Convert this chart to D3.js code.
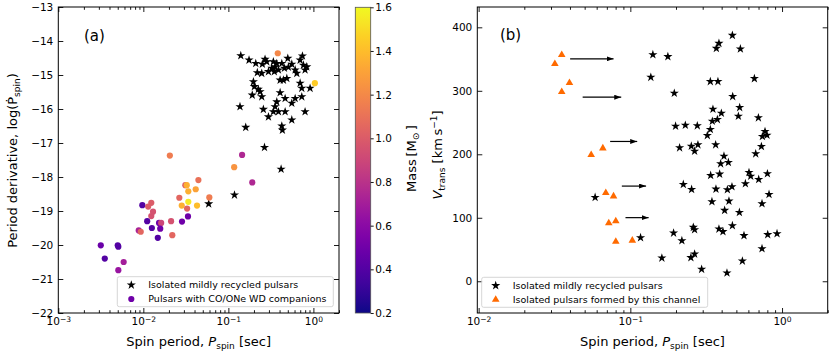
<!DOCTYPE html>
<html>
<head>
<meta charset="utf-8">
<script src="https://cdn.jsdelivr.net/npm/d3@7"></script>
<style>
  body { margin: 0; background: #fff; }
  svg { font-family: "DejaVu Sans", sans-serif; }
</style>
</head>
<body>
<svg id="chart" width="831" height="354"></svg>
<script>
// ---- panel (a): isolated mildly recycled pulsars [P (s), log Pdot]
const starsA = [
  [0.140,-14.43],[0.175,-14.56],[0.210,-14.66],[0.251,-14.68],[0.270,-14.54],[0.283,-14.61],
  [0.338,-14.61],[0.354,-14.76],[0.371,-14.66],[0.388,-14.85],[0.347,-14.90],[0.324,-14.80],
  [0.296,-14.90],[0.247,-14.95],[0.219,-14.93],[0.425,-14.66],[0.456,-14.80],[0.500,-14.51],
  [0.508,-14.77],[0.557,-14.68],[0.610,-14.85],[0.638,-14.95],[0.698,-14.56],[0.743,-14.44],
  [0.763,-14.71],[0.798,-14.85],[0.835,-14.76],[0.698,-15.24],[0.730,-15.39],[0.914,-15.39],
  [0.487,-15.10],[0.406,-15.15],[0.444,-15.15],[0.197,-15.20],[0.202,-15.34],[0.225,-15.42],
  [0.236,-15.49],[0.191,-15.59],[0.247,-15.64],[0.137,-15.93],[0.406,-15.52],[0.465,-15.69],
  [0.610,-15.69],[0.730,-15.64],[0.371,-15.79],[0.557,-15.83],[0.354,-15.93],[0.258,-16.01],
  [0.338,-16.08],[0.388,-16.08],[0.465,-16.08],[0.296,-16.23],[0.557,-16.32],[0.798,-16.08],
  [0.160,-16.54],[0.425,-16.50],[0.432,-16.62],[0.266,-17.13],[0.417,-17.77],[0.118,-18.53],
  [0.0587,-18.79]
];

// pulsars with CO/ONe WD companions [P (s), log Pdot, mass (Msun)]
const wdPulsars = [
  [0.0205,-17.37,1.15],[0.0444,-18.09,1.10],[0.0312,-18.24,1.00],[0.0324,-18.24,1.35],
  [0.0338,-18.42,1.35],[0.0413,-18.36,1.30],[0.0265,-18.61,1.05],[0.0338,-18.73,1.55],
  [0.0283,-18.84,1.35],[0.0428,-18.84,1.40],[0.0327,-18.93,1.05],[0.0335,-19.16,0.50],
  [0.0285,-19.31,0.50],[0.0212,-19.30,0.95],[0.0219,-19.71,1.05],[0.00973,-18.83,0.40],
  [0.0124,-18.76,1.00],[0.0114,-18.87,1.00],[0.0130,-19.02,0.95],[0.0124,-19.15,0.95],
  [0.0111,-19.30,0.40],[0.0153,-19.35,0.50],[0.0162,-19.35,0.90],[0.0126,-19.50,0.40],
  [0.0158,-19.52,0.50],[0.00883,-19.57,0.72],[0.00932,-19.61,1.05],[0.0148,-19.79,0.40],
  [0.00316,-20.01,0.48],[0.00500,-20.01,0.40],[0.00508,-20.05,0.40],[0.00352,-20.40,0.40],
  [0.00587,-20.50,0.70],[0.00508,-20.74,0.65],[0.145,-17.35,0.75],[0.117,-17.71,1.25],
  [0.191,-18.16,0.75],[0.0597,-18.60,1.15],[0.381,-14.36,1.20],[1.04,-15.24,1.45]
];

// ---- panel (b): isolated mildly recycled pulsars [P (s), V_trans (km/s)]
const starsB = [
  [0.1408,357.0],[0.1768,353.9],[0.1365,321.3],[0.1949,296.2],[0.1987,244.3],[0.2304,245.8],
  [0.2764,244.9],[0.2113,210.3],[0.2523,212.8],[0.2653,204.9],[0.2790,215.0],[0.3368,314.6],
  [0.3780,314.6],[0.3838,374.8],[0.3690,366.9],[0.4707,387.4],[0.5314,366.0],[0.6573,319.3],
  [0.4729,291.0],[0.5258,273.7],[0.5155,260.0],[0.3504,271.0],[0.3981,264.7],[0.3472,252.1],
  [0.3747,254.8],[0.3368,239.1],[0.3218,229.6],[0.3651,215.0],[0.4142,197.1],[0.3939,185.1],
  [0.4429,187.2],[0.6985,257.5],[0.7723,235.9],[0.7424,228.1],[0.7962,230.1],[0.7312,212.3],
  [0.6705,200.8],[0.3384,166.7],[0.3879,168.8],[0.6056,171.4],[0.6215,165.6],[0.7018,160.4],
  [0.8011,169.4],[0.2235,152.6],[0.2535,144.7],[0.3668,145.2],[0.4362,144.2],[0.4677,148.9],
  [0.5733,153.7],[0.8209,136.8],[0.7379,122.2],[0.3451,125.4],[0.4468,126.3],[0.4184,111.7],
  [0.5234,108.5],[0.0586,132.1],[0.1168,68.7],[0.1928,76.0],[0.2187,64.0],[0.2601,84.9],
  [0.2653,81.3],[0.3838,82.3],[0.4079,78.2],[0.4707,87.6],[0.5613,71.9],[0.8047,73.5],
  [0.9268,75.0],[0.7379,51.4],[0.1614,36.6],[0.2507,37.3],[0.2653,42.9],[0.5478,31.9],
  [0.2951,18.9],[0.4335,13.1]
];

// isolated pulsars formed by this channel [P (s), V_trans]
const channelB = [
  [0.0353,356.6],[0.0318,342.4],[0.0397,312.5],[0.0353,298.3],[0.0659,209.6],[0.0552,199.2],
  [0.0689,139.2],[0.0775,134.0],[0.0721,91.5],[0.0802,94.7],[0.0802,62.6],[0.1031,64.2]
];

// spin-up arrows [P start, P end, V_trans]
const arrowsB = [
  [0.0401,0.0775,350.3],[0.0485,0.0871,289.9],[0.0736,0.111,220.2],
  [0.0879,0.127,149.9],[0.0929,0.132,100.2]
];

const yTicksA = [-22,-21,-20,-19,-18,-17,-16,-15,-14,-13];
const xMajorA = [1e-3,1e-2,1e-1,1];
const yTicksB = [0,100,200,300,400];
const xMajorB = [1e-2,1e-1,1];
const massTicks = [0.2,0.4,0.6,0.8,1.0,1.2,1.4,1.6];

const legendA = ["Isolated mildly recycled pulsars", "Pulsars with CO/ONe WD companions"];
const legendB = ["Isolated mildly recycled pulsars", "Isolated pulsars formed by this channel"];

const svg = d3.select("#chart");
const FS = 10.5;
const ORANGE = "#ff6a00";

const xA = d3.scaleLog().domain([1e-3, 2]).range([58.3, 339]);
const yA = d3.scaleLinear().domain([-22, -13]).range([313, 7]);
const xB = d3.scaleLog().domain([0.0098, 2]).range([477.3, 827.7]);
const yB = d3.scaleLinear().domain([-50, 432]).range([313, 7]);
const cScale = d3.scaleSequential(d3.interpolatePlasma).domain([0.2, 1.6]);
const cY = d3.scaleLinear().domain([0.2, 1.6]).range([313, 7.3]);

const starPath = d3.symbol(d3.symbolStar, 26)();
const triPath = d3.symbol(d3.symbolTriangle, 25)();

function isPow10(v) {
  const l = Math.log10(v);
  return Math.abs(l - Math.round(l)) < 1e-6;
}

function styleAxis(g) {
  g.attr("font-size", FS).attr("font-family", null);
  g.select(".domain").remove();
  g.selectAll(".tick line").attr("stroke-width", 0.9);
}

function drawFrame(x, y, xMajor, yTicks, yFmt) {
  const [x0, x1] = x.range();
  const [yb, yt] = y.range();
  const minor = x.ticks().filter(v => !isPow10(v));

  // bottom
  const gb = svg.append("g").attr("transform", `translate(0,${yb})`)
    .call(d3.axisBottom(x).tickValues(xMajor).tickSize(-5).tickPadding(4.5).tickFormat(() => ""))
    .call(styleAxis);
  gb.selectAll(".tick text").each(function(d) {
    const e = Math.round(Math.log10(d));
    const t = d3.select(this);
    t.append("tspan").text("10");
    t.append("tspan").attr("dy", "-0.45em").attr("font-size", "0.72em")
      .text(e < 0 ? "\u2212" + (-e) : String(e));
  });
  svg.append("g").attr("transform", `translate(0,${yb})`)
    .call(d3.axisBottom(x).tickValues(minor).tickSize(-2.8).tickFormat(() => ""))
    .call(styleAxis);
  // top
  svg.append("g").attr("transform", `translate(0,${yt})`)
    .call(d3.axisTop(x).tickValues(xMajor).tickSize(-5).tickFormat(() => ""))
    .call(styleAxis);
  svg.append("g").attr("transform", `translate(0,${yt})`)
    .call(d3.axisTop(x).tickValues(minor).tickSize(-2.8).tickFormat(() => ""))
    .call(styleAxis);
  // left / right
  svg.append("g").attr("transform", `translate(${x0},0)`)
    .call(d3.axisLeft(y).tickValues(yTicks).tickSize(-5).tickPadding(5).tickFormat(yFmt))
    .call(styleAxis);
  svg.append("g").attr("transform", `translate(${x1},0)`)
    .call(d3.axisRight(y).tickValues(yTicks).tickSize(-5).tickFormat(() => ""))
    .call(styleAxis);
}

function drawSpines(x, y) {
  const [x0, x1] = x.range();
  const [yb, yt] = y.range();
  svg.append("rect").attr("x", x0).attr("y", yt).attr("width", x1 - x0).attr("height", yb - yt)
    .attr("fill", "none").attr("stroke", "#000").attr("stroke-width", 1);
}

function legend(x, y, w, h, items) {
  const g = svg.append("g").attr("transform", `translate(${x},${y})`);
  g.append("rect").attr("width", w).attr("height", h).attr("rx", 2)
    .attr("fill", "#fff").attr("fill-opacity", 0.8).attr("stroke", "#ccc").attr("stroke-width", 0.8);
  items.forEach((it, i) => {
    const cy = 8.3 + i * 14;
    const m = g.append("g").attr("transform", `translate(14,${cy})`);
    it.mark(m);
    g.append("text").attr("x", 31).attr("y", cy).attr("dy", "0.35em")
      .attr("font-size", 9.5).text(it.label);
  });
}

// ================= panel (a) =================
const gA = svg.append("g");
gA.selectAll("path.star").data(starsA).join("path").attr("class", "star")
  .attr("d", starPath).attr("fill", "#000")
  .attr("transform", d => `translate(${xA(d[0])},${yA(d[1])})`);
gA.selectAll("circle").data(wdPulsars).join("circle")
  .attr("cx", d => xA(d[0])).attr("cy", d => yA(d[1])).attr("r", 3.1)
  .attr("fill", d => cScale(d[2]));

drawFrame(xA, yA, xMajorA, yTicksA, d3.format("d"));
drawSpines(xA, yA);

svg.append("text").attr("x", 84).attr("y", 41).attr("font-size", 15).text("(a)");

legend(117.3, 276.7, 216, 30, [
  { label: legendA[0], mark: g => g.append("path").attr("d", starPath).attr("fill", "#000") },
  { label: legendA[1], mark: g => g.append("circle").attr("r", 3.1).attr("fill", cScale(0.5)) }
]);

// x label (a)
const xlabA = svg.append("text").attr("x", 198.6).attr("y", 346).attr("text-anchor", "middle").attr("font-size", 13);
xlabA.append("tspan").text("Spin period, ");
xlabA.append("tspan").attr("font-style", "italic").text("P");
xlabA.append("tspan").attr("font-size", 9).attr("dy", 3).text("spin");
xlabA.append("tspan").attr("dy", -3).text(" [sec]");

// y label (a)
const ylabA = svg.append("text").attr("transform", "translate(16.5,160.5) rotate(-90)")
  .attr("text-anchor", "middle").attr("font-size", 13);
ylabA.append("tspan").text("Period derivative, log(\u1E56");
ylabA.append("tspan").attr("font-size", 9).attr("dy", 3).text("spin");
ylabA.append("tspan").attr("dy", -3).text(")");

// colorbar
const grad = svg.append("defs").append("linearGradient").attr("id", "plasma")
  .attr("x1", 0).attr("y1", 1).attr("x2", 0).attr("y2", 0);
d3.range(0, 1.0001, 0.05).forEach(t => {
  grad.append("stop").attr("offset", `${t * 100}%`).attr("stop-color", d3.interpolatePlasma(t));
});
svg.append("rect").attr("x", 355.3).attr("y", 7.3).attr("width", 15.4).attr("height", 313 - 7.3)
  .attr("fill", "url(#plasma)").attr("stroke", "#555").attr("stroke-width", 0.8);
svg.append("g").attr("transform", "translate(370.7,0)")
  .call(d3.axisRight(cY).tickValues(massTicks).tickSize(3).tickPadding(1.5).tickFormat(d3.format(".1f")))
  .call(styleAxis);
const cLab = svg.append("text").attr("transform", "translate(416,158.5) rotate(-90)")
  .attr("text-anchor", "middle").attr("font-size", 13);
cLab.append("tspan").text("Mass\u2009[M");
cLab.append("tspan").attr("font-size", 9).attr("dy", 3).text("\u2299");
cLab.append("tspan").attr("dy", -3).text("\u2009]");

// ================= panel (b) =================
const defs = svg.select("defs");
defs.append("marker").attr("id", "ahead").attr("markerUnits", "userSpaceOnUse")
  .attr("markerWidth", 7).attr("markerHeight", 5).attr("refX", 7).attr("refY", 2.5)
  .attr("orient", "auto")
  .append("path").attr("d", "M0,0L7,2.5L0,5Z").attr("fill", "#000");

const gB = svg.append("g");
gB.selectAll("path.star").data(starsB).join("path").attr("class", "star")
  .attr("d", starPath).attr("fill", "#000")
  .attr("transform", d => `translate(${xB(d[0])},${yB(d[1])})`);
gB.selectAll("path.tri").data(channelB).join("path").attr("class", "tri")
  .attr("d", triPath).attr("fill", ORANGE)
  .attr("transform", d => `translate(${xB(d[0])},${yB(d[1])})`);
gB.selectAll("line.arrow").data(arrowsB).join("line").attr("class", "arrow")
  .attr("x1", d => xB(d[0])).attr("x2", d => xB(d[1]))
  .attr("y1", d => yB(d[2])).attr("y2", d => yB(d[2]))
  .attr("stroke", "#000").attr("stroke-width", 1.2).attr("marker-end", "url(#ahead)");

drawFrame(xB, yB, xMajorB, yTicksB, d3.format("d"));
drawSpines(xB, yB);

svg.append("text").attr("x", 500).attr("y", 40).attr("font-size", 15).text("(b)");

legend(481.7, 277.3, 226, 30, [
  { label: legendB[0], mark: g => g.append("path").attr("d", starPath).attr("fill", "#000") },
  { label: legendB[1], mark: g => g.append("path").attr("d", triPath).attr("fill", ORANGE) }
]);

const xlabB = svg.append("text").attr("x", 652.5).attr("y", 346).attr("text-anchor", "middle").attr("font-size", 13);
xlabB.append("tspan").text("Spin period, ");
xlabB.append("tspan").attr("font-style", "italic").text("P");
xlabB.append("tspan").attr("font-size", 9).attr("dy", 3).text("spin");
xlabB.append("tspan").attr("dy", -3).text(" [sec]");

const ylabB = svg.append("text").attr("transform", "translate(441.5,155) rotate(-90)")
  .attr("text-anchor", "middle").attr("font-size", 13);
ylabB.append("tspan").attr("font-style", "italic").text("V");
ylabB.append("tspan").attr("font-size", 9).attr("dy", 3).text("trans");
ylabB.append("tspan").attr("dy", -3).text(" [km\u2009s");
ylabB.append("tspan").attr("font-size", 9).attr("dy", -5).text("\u22121");
ylabB.append("tspan").attr("dy", 5).text("]");
</script>
</body>
</html>
